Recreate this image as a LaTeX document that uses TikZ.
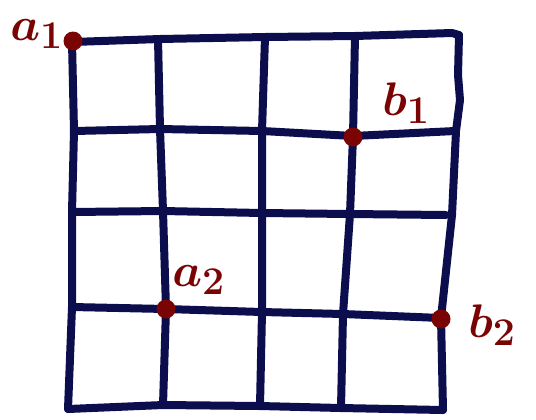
\documentclass[tikz,border=0pt]{standalone}
\usepackage{tikz}
\usetikzlibrary{positioning}
\definecolor{GridNavy}{HTML}{0B0D4C}
\definecolor{DotRed}{HTML}{7A0404}

\begin{document}
\begin{tikzpicture}[x=1bp, y=-1bp,
    gridline/.style={GridNavy, line width=8bp, line cap=round, line join=round},
    vertex/.style={circle, fill=DotRed, inner sep=0pt, minimum size=19bp},
    tag/.style={DotRed, font=\Huge\boldmath, scale=1.9, inner sep=0pt, text height=0.7em, anchor=base west}]
    \useasboundingbox (0,0) rectangle (536,419);

    % Horizontal lines
    \draw[gridline] (72,42) -- (160,39) -- (265,37) -- (355,36) -- (452,33) -- (459,35);
    \draw[gridline] (74,131) -- (160,129) -- (262,131) -- (353,136) -- (455,131);
    \draw[gridline] (72,212) -- (163,211) -- (262,213) -- (350,214) -- (446,215);
    \draw[gridline] (72,307) -- (166,309) -- (262,312) -- (343,314) -- (441,318);
    \draw[gridline] (68,409) -- (163,405) -- (260,406) -- (341,408) -- (443,410);

    % Vertical lines
    \draw[gridline] (72,42) -- (74,131) -- (72,212) -- (72,307) -- (68,409);
    \draw[gridline] (158,39) -- (160,129) -- (163,211) -- (166,309) -- (163,405);
    \draw[gridline] (265,37) -- (262,131) -- (262,213) -- (262,312) -- (260,406);
    \draw[gridline] (355,36) -- (353,136) -- (350,214) -- (343,314) -- (341,408);
    \draw[gridline] (459,35) -- (458,75) -- (460,100) -- (456,131) -- (452,215) -- (441,318) -- (443,410);

    % Points
    \node[vertex] (a1) at (73,41) {};
    \node[vertex] (b1) at (353,137) {};
    \node[vertex] (a2) at (166,309) {};
    \node[vertex] (b2) at (441,319) {};

    % Labels
    \node[tag] (a1lbl) at (10,40) {$a_1$};
    \node[tag] (b1lbl) at (382,115) {$b_1$};
    \node[tag] (a2lbl) at (172,286) {$a_2$};
    \node[tag] (b2lbl) at (468,337) {$b_2$};

\end{tikzpicture}
\end{document}
